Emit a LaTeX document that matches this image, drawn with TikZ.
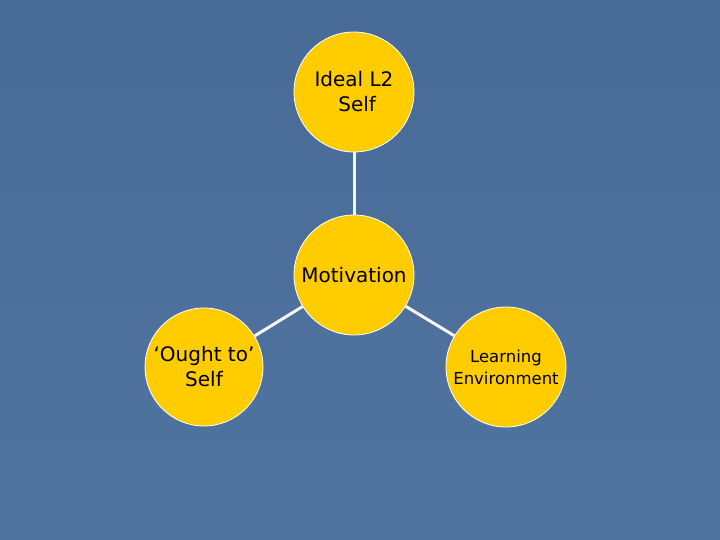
\documentclass[tikz,border=0pt]{standalone}
\usepackage{fontspec}
\setmainfont{DejaVu Sans}
\usetikzlibrary{positioning}
\definecolor{slideblue}{RGB}{80,116,160}
\definecolor{slidetop}{RGB}{72,106,150}
\definecolor{bubbleyellow}{RGB}{255,204,0}
\tikzset{
  bubble/.style={circle,draw=white,line width=0.8bp,fill=bubbleyellow,minimum size=120bp,inner sep=0pt,align=center,font=\fontsize{20bp}{25bp}\selectfont},
  spoke/.style={draw=white!92!gray,line width=3bp}
}
\begin{document}
\begin{tikzpicture}[x=1bp,y=-1bp]
        % slide background
\shade[top color=slidetop,bottom color=slideblue] (0,0) rectangle (720,540);
\useasboundingbox (0,0) rectangle (720,540);
        % motivation triangle
\node[bubble] (ideal) at (354,92) {Ideal L2\\ \ Self};
\node[bubble] (motiv) at (354,275) {Motivation};
\node[bubble,minimum size=118bp] (ought) at (204,367) {`Ought to'\\Self};
\node[bubble,font=\fontsize{16.5bp}{22bp}\selectfont] (learn) at (506,367) {Learning\\Environment};

\draw[spoke] (ideal) -- (motiv);
\draw[spoke] (motiv) -- (ought);
\draw[spoke] (motiv) -- (learn);
    \end{tikzpicture}
\end{document}
